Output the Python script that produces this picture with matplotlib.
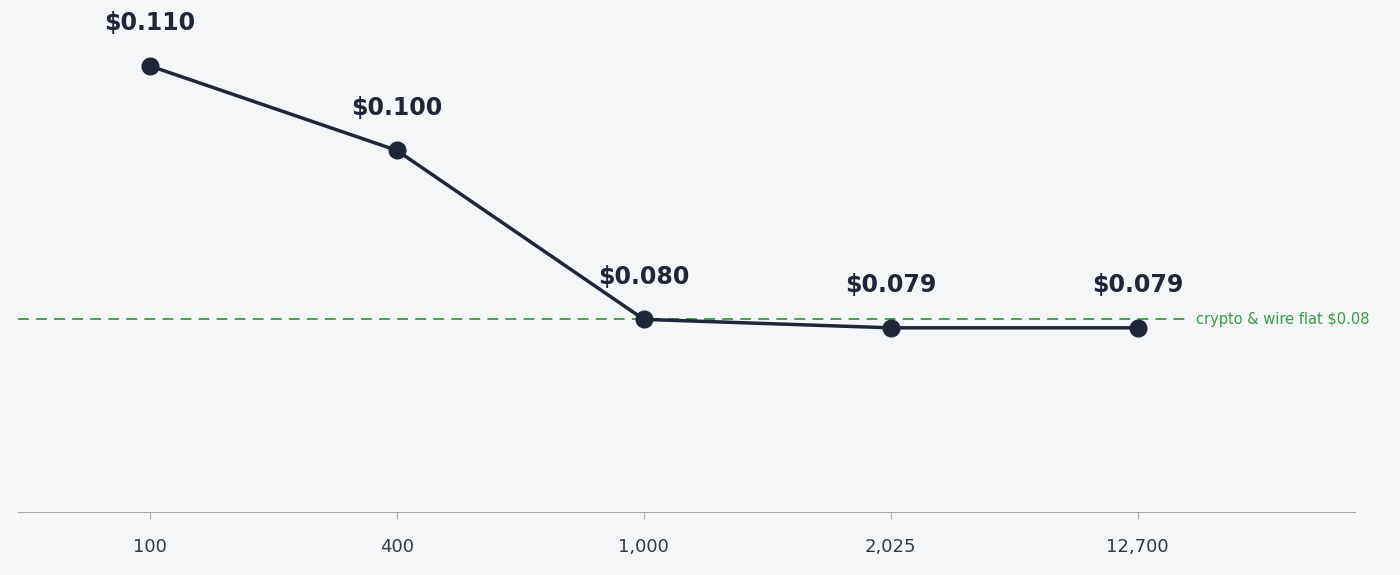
import matplotlib
matplotlib.use("Agg")
import matplotlib.pyplot as plt

tiers = ["100", "400", "1,000", "2,025", "12,700"]
prices = [0.110, 0.100, 0.080, 0.079, 0.079]
flat_rate = 0.08
flat_label = "crypto & wire flat $0.08"

bg = "#f5f6f8"
dark = "#1e2638"
green = "#3a9a4a"

fig = plt.figure(figsize=(14, 5.75), dpi=100, facecolor=bg)
ax = fig.add_axes([18/1400, 63/575, (1355-18)/1400, 512/575])
ax.set_facecolor(bg)
x = list(range(len(tiers)))
ax.set_xlim(-0.534, 4.88)
ax.set_ylim(0.0572, 0.1178)
ax.hlines(flat_rate, -0.534, 4.19, color=green, ls=(0, (6, 4)), lw=1.3, zorder=1)
ax.plot(x, prices, color=dark, lw=2.5, marker="o", ms=12, zorder=3)
for xi, p in zip(x, prices):
    ax.annotate(f"${p:.3f}", (xi, p), xytext=(0, 22), textcoords="offset points",
                ha="center", va="bottom", fontsize=17, fontweight="bold", color=dark)
ax.annotate(flat_label, (len(tiers) - 1, flat_rate), xytext=(42, 0), textcoords="offset points",
            ha="left", va="center", fontsize=10.5, color=green)
ax.set_xticks(x)
ax.set_xticklabels(tiers, fontsize=13, color="#333a44")
ax.set_yticks([])
for s in ["top", "right", "left"]:
    ax.spines[s].set_visible(False)
ax.spines["bottom"].set_color("#aaaaaa")
ax.tick_params(axis="x", length=5, color="#aaaaaa", pad=14)
fig.savefig("out.png", dpi=100, facecolor=bg)
